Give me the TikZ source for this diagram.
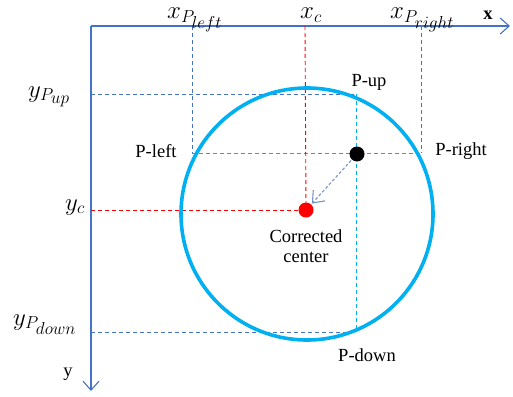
\documentclass[tikz,border=0pt]{standalone}
\usepackage{fontspec}
\setmainfont{Liberation Serif}
\usetikzlibrary{arrows.meta}
\definecolor{axisblue}{RGB}{68,114,196}
\definecolor{ringcyan}{RGB}{0,176,240}
\definecolor{shiftgray}{RGB}{120,148,196}
\begin{document}
\begin{tikzpicture}[
        x=1pt, y=-1pt,
        font=\fontsize{18.5}{20}\selectfont,
        axis/.style={
            draw=axisblue, line width=1.1pt,
            -{Straight Barb[length=9pt,width=16pt,line width=1.1pt]}
        },
        ring/.style={
            circle, draw=ringcyan, line width=3.6pt,
            minimum size=252pt, inner sep=0pt
        },
        dot/.style={
            circle, minimum size=15pt, inner sep=0pt
        },
        guide/.style={dash pattern=on 4pt off 3pt, line width=0.9pt},
        coordlabel/.style={
            font=\fontsize{23}{25}\selectfont,
            inner sep=0pt, anchor=base west
        },
        shiftarr/.style={
            draw=shiftgray, line width=1.1pt, densely dashed,
            -{Straight Barb[length=10pt,width=16pt,line width=1.1pt]},
            shorten >=1pt, shorten <=1pt
        }
    ]
    \useasboundingbox (0,0) rectangle (513,396);

    % Axes
    \coordinate (O) at (91,26);
    \coordinate (xend) at (510,26);
    \coordinate (yend) at (91,391);
    \draw[axis] (O) -- (xend);
    \draw[axis] (O) -- (yend);
    \node (xaxis) at (488,15) {\textbf{x}};
    \node (yaxis) at (68,374) {y};

    % Feet on the axes
    \coordinate (xl) at (192,26);
    \coordinate (xc) at (305,26);
    \coordinate (xr) at (421,26);
    \coordinate (yu) at (91,94);
    \coordinate (yc) at (91,210);
    \coordinate (yd) at (91,332);

    % Extreme points
    \coordinate (pl) at (192,153);
    \coordinate (pr) at (421,153);
    \coordinate (pu) at (356,94);
    \coordinate (pd) at (356,332);
    \coordinate (cc) at (306,210);

    % Guide lines
    \draw[guide, axisblue] (xl) -- (pl);
    \draw[guide, axisblue] (xr) -- (pr);
    \draw[guide, axisblue] (yu) -- (pu);
    \draw[guide, axisblue] (yd) -- (pd);
    \draw[guide, ringcyan] (pl) -- (pr);
    \draw[guide, ringcyan] (pu) -- (pd);
    \draw[guide, red] (xc) -- (cc);
    \draw[guide, red] (yc) -- (cc);

    % Circle and points
    \node[ring] (circ) at (307,214) {};
    \node[dot, fill=black] (pmax) at (357,154) {};
    \node[dot, fill=red] (cen) at (cc) {};

    % Shift towards corrected center
    \draw[shiftarr] (pmax) -- (cen);

    % Axis value labels
    \node[coordlabel] (lxl) at (167,19) {$x_{P_{\scriptstyle left}}$};
    \node[coordlabel] (lxc) at (300,19) {$x_{\scriptstyle c}$};
    \node[coordlabel] (lxr) at (390,19) {$x_{P_{\scriptstyle right}}$};
    \node[coordlabel] (lyu) at (28,97) {$y_{P_{\scriptstyle up}}$};
    \node[coordlabel] (lyc) at (65,210) {$y_{\scriptstyle c}$};
    \node[coordlabel] (lyd) at (13,325) {$y_{P_{\scriptstyle down}}$};

    % Point labels
    \node (lpu) at (369,82) {P-up};
    \node (lpl) at (156,151) {P-left};
    \node (lpr) at (461,151) {P-right};
    \node (lpd) at (367,355) {P-down};
    \node[align=center] (lcen) at (306,246) {Corrected\\center};

\end{tikzpicture}
\end{document}
